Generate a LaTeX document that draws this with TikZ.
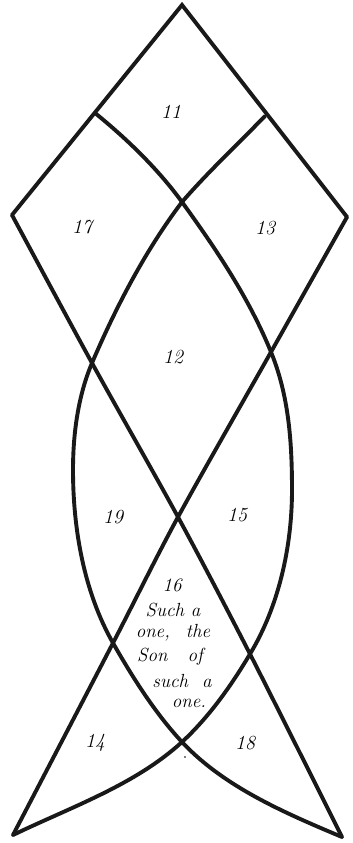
\documentclass[tikz,border=0pt]{standalone}
\usepackage{fontspec}
\newcommand\numfont{\fontsize{20}{22}\selectfont\itshape}
\newcommand\txtfont{\fontsize{19}{22}\selectfont\itshape\addfontfeatures{LetterSpace=3}}
\begin{document}
\begin{tikzpicture}[x=1pt,y=-1pt,
  stroke/.style={line width=3.9pt,line join=round,line cap=round,draw=black!90},
  num/.style={font=\numfont,inner sep=0pt},
  txt/.style={font=\txtfont,inner sep=0pt}]
\useasboundingbox (0,0) rectangle (353,843);
% key points
\coordinate (apex) at (182,5);
\coordinate (Lx) at (12,215);
\coordinate (Rx) at (347,217);
\coordinate (UL) at (95,113);
\coordinate (UR) at (265,116);
\coordinate (Cc) at (182,202);
\coordinate (Lc) at (92,363);
\coordinate (Rc) at (271,352);
\coordinate (Mc) at (178,517);
\coordinate (LLc) at (113,643);
\coordinate (LRc) at (250,654);
\coordinate (Bc) at (182,742);
\coordinate (BL) at (13,835);
\coordinate (BR) at (342,837);
\coordinate (Rb) at (292,490);
\coordinate (Lb) at (73,470);
% outer upper lines
\draw[stroke,line join=miter] (Lx) -- (apex) -- (Rx);
% long crossing lines
\draw[stroke] plot[smooth,tension=0.5] coordinates {(Lx) (Lc) (Mc) (LRc) (BR)};
\draw[stroke] plot[smooth,tension=0.5] coordinates {(Rx) (Rc) (Mc) (LLc) (BL)};
% curve A
\draw[stroke] (UL) .. controls +(32,26) and +(-24,-33) .. (Cc)
  .. controls +(34,47) and +(-22,-54) .. (Rc)
  .. controls +(18,44) and +(0,-47) .. (Rb)
  .. controls +(0,56) and +(29,-48) .. (LRc)
  .. controls +(-19,32) and +(27,-25) .. (Bc)
  .. controls +(-47,43) and +(58,-28) .. (BL);
% curve B
\draw[stroke] (UR) .. controls +(-28,29) and +(26,-30) .. (Cc)
  .. controls +(-37,49) and +(24,-56) .. (Lc)
  .. controls +(-14,33) and +(0,-36) .. (Lb)
  .. controls +(0,59) and +(-29,-51) .. (LLc)
  .. controls +(20,35) and +(-27,-29) .. (Bc)
  .. controls +(42,45) and +(-57,-24) .. (BR);
% labels
\node[num] (n11) at (171,112) {11};
\node[num] (n17) at (82,227) {17};
\node[num] (n13) at (265,228) {13};
\node[num] (n12) at (173,357) {12};
\node[num] (n19) at (113,517) {19};
\node[num] (n15) at (237,515) {15};
\node[txt] (n16) at (172,585) {16};
\node[txt] (t1) at (173,610) {Such a};
\node[txt] (t2) at (173,633) {one,\hspace{16pt}the};
\node[txt] (t3) at (170,657) {Son\hspace{20pt}of};
\node[txt] (t4) at (182,681) {such\hspace{14pt}a};
\node[txt] (t5) at (189,703) {one.};
\node[num] (n14) at (95,743) {14};
\node[num] (n18) at (245,743) {18};
\fill (185,757) circle (0.9pt);
\end{tikzpicture}
\end{document}
